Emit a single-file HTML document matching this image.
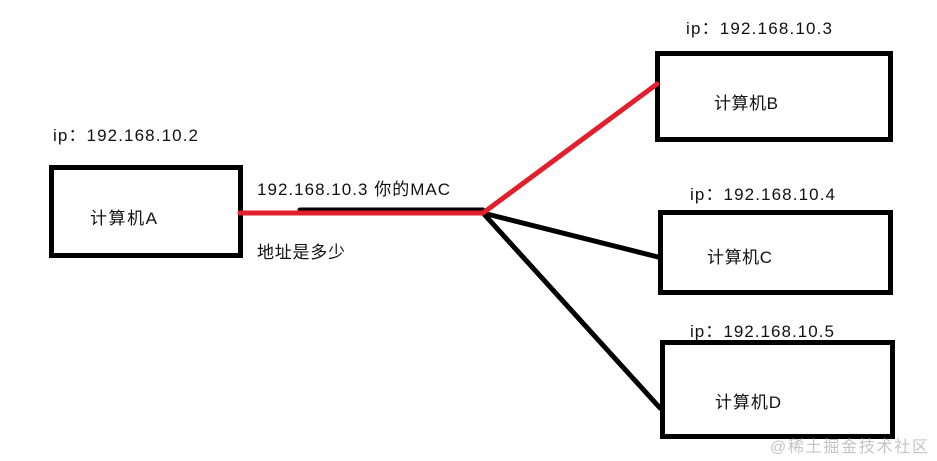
<!DOCTYPE html>
<html><head><meta charset="utf-8"><style>
html,body{margin:0;padding:0;background:#fff;}
svg{display:block;}
text{font-family:"Liberation Sans","Noto Sans CJK SC",sans-serif;font-size:17px;fill:#111;}
</style></head><body>
<svg width="937" height="461" viewBox="0 0 937 461" xmlns="http://www.w3.org/2000/svg">
<rect x="0" y="0" width="937" height="461" fill="#fff"/>
<g fill="none" stroke="#000" stroke-width="5">
<rect x="51.5" y="167.5" width="189" height="88"/>
<rect x="657.5" y="53.5" width="233" height="86"/>
<rect x="660.5" y="212.5" width="230" height="80"/>
<rect x="662.5" y="342.5" width="230" height="94"/>
</g>
<g stroke="#000" stroke-width="5" stroke-linecap="round">
<line x1="300" y1="210" x2="483" y2="210"/>
<line x1="483" y1="213" x2="658" y2="257"/>
<line x1="483" y1="213" x2="660" y2="408"/>
</g>
<polyline points="240,213 483,213 657,84" fill="none" stroke="#e0202c" stroke-width="5" stroke-linecap="round" stroke-linejoin="round"/>
<text x="53" y="141" textLength="145">ip：192.168.10.2</text>
<text x="686" y="34" textLength="146">ip：192.168.10.3</text>
<text x="690" y="200" textLength="145">ip：192.168.10.4</text>
<text x="690" y="337" textLength="144">ip：192.168.10.5</text>
<text x="90" y="224" textLength="67">计算机A</text>
<text x="714" y="109" textLength="64">计算机B</text>
<text x="707" y="263" textLength="65">计算机C</text>
<text x="715" y="408" textLength="66">计算机D</text>
<text x="257" y="195" textLength="193">192.168.10.3 你的MAC</text>
<text x="257" y="258" textLength="88">地址是多少</text>
<text x="770" y="452" textLength="158" style="fill:#c4c4c4;font-size:16px;">@稀土掘金技术社区</text>
</svg>
</body></html>
